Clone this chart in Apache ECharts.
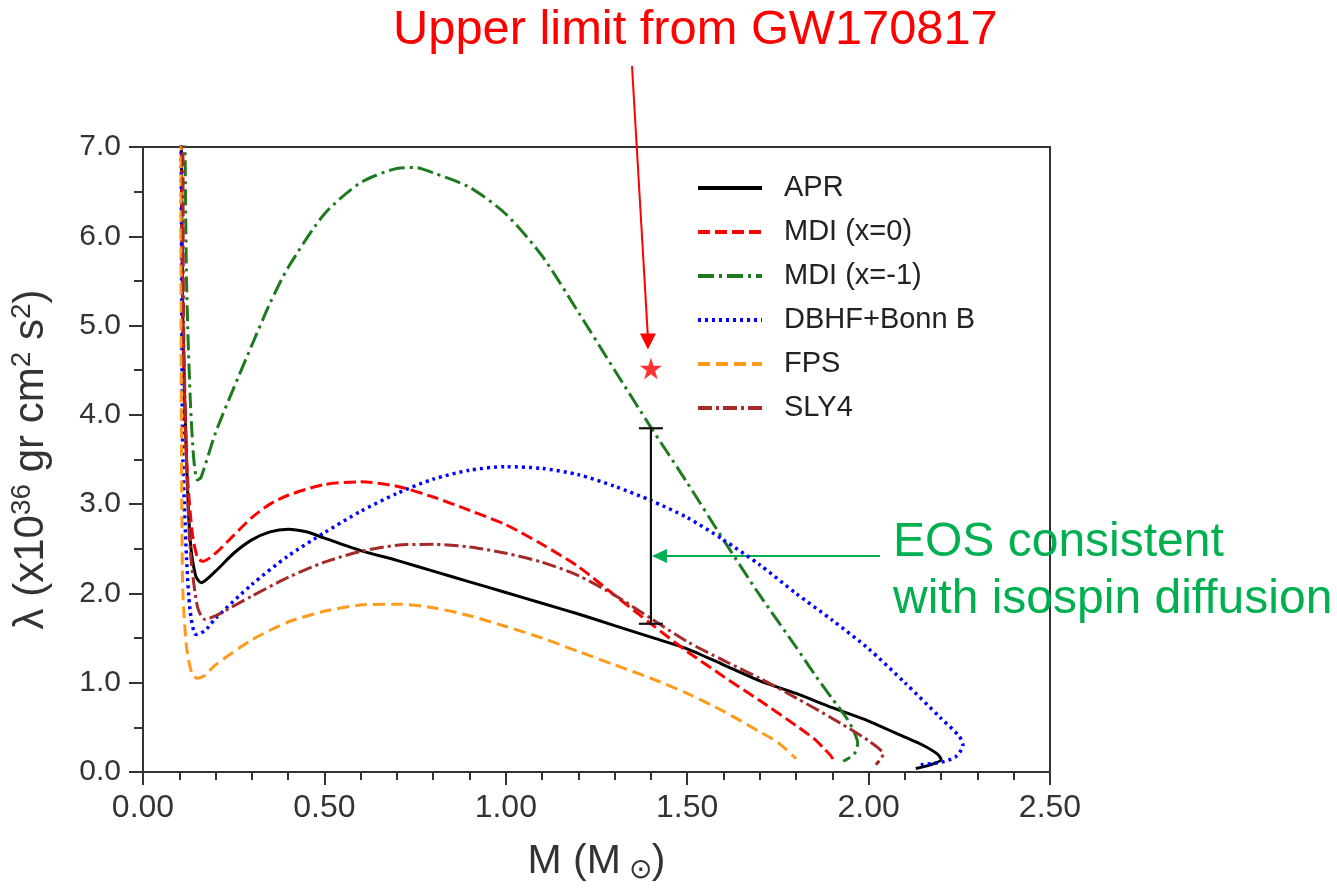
<!DOCTYPE html>
<html><head><meta charset="utf-8">
<script src="https://cdn.jsdelivr.net/npm/echarts/dist/echarts.min.js"></script>
<style>html,body{margin:0;padding:0;background:#fff}#c{width:1337px;height:889px}</style>
</head><body><div id="c"></div>
<script>
const seriesNames = ['APR', 'MDI (x=0)', 'MDI (x=-1)', 'DBHF+Bonn B', 'FPS', 'SLY4'];
const xTickLabels = ['0.00', '0.50', '1.00', '1.50', '2.00', '2.50'];
const yTickLabels = ['0.0', '1.0', '2.0', '3.0', '4.0', '5.0', '6.0', '7.0'];

const apr = [[0.105,7.5],[0.11,5.0],[0.12,3.5],[0.13,2.6],[0.145,2.2],[0.16,2.12],[0.2,2.25],[0.25,2.45],[0.3,2.6],[0.35,2.69],[0.4,2.72],[0.45,2.69],[0.5,2.62],[0.6,2.48],[0.7,2.37],[0.8,2.25],[0.9,2.13],[1.0,2.01],[1.1,1.89],[1.2,1.77],[1.3,1.64],[1.4,1.51],[1.5,1.38],[1.6,1.2],[1.7,1.02],[1.8,0.88],[1.9,0.72],[2.0,0.57],[2.1,0.39],[2.15,0.3],[2.19,0.2],[2.2,0.14],[2.17,0.08],[2.13,0.04]];
const mdi0 = [[0.105,7.5],[0.11,5.0],[0.12,3.5],[0.135,2.7],[0.15,2.4],[0.165,2.36],[0.2,2.45],[0.25,2.65],[0.3,2.85],[0.35,3.0],[0.4,3.1],[0.5,3.22],[0.6,3.25],[0.7,3.2],[0.8,3.08],[0.9,2.93],[1.0,2.77],[1.1,2.55],[1.2,2.3],[1.3,1.98],[1.4,1.66],[1.5,1.35],[1.6,1.07],[1.7,0.8],[1.8,0.52],[1.85,0.37],[1.88,0.25],[1.9,0.15],[1.9,0.12]];
const mdim1 = [[0.115,7.5],[0.12,5.5],[0.13,4.2],[0.14,3.5],[0.15,3.27],[0.16,3.3],[0.2,3.8],[0.25,4.3],[0.3,4.78],[0.35,5.25],[0.4,5.65],[0.5,6.25],[0.6,6.6],[0.7,6.76],[0.75,6.77],[0.8,6.71],[0.9,6.55],[1.0,6.25],[1.1,5.78],[1.2,5.15],[1.3,4.5],[1.4,3.86],[1.5,3.24],[1.6,2.6],[1.7,1.98],[1.8,1.4],[1.85,1.1],[1.9,0.82],[1.94,0.6],[1.96,0.45],[1.97,0.32],[1.96,0.2],[1.93,0.12]];
const dbhf = [[0.105,7.5],[0.107,5.0],[0.11,3.5],[0.12,2.4],[0.13,1.8],[0.146,1.54],[0.17,1.58],[0.2,1.72],[0.3,2.1],[0.4,2.42],[0.5,2.68],[0.6,2.92],[0.7,3.12],[0.8,3.28],[0.9,3.38],[1.0,3.42],[1.1,3.4],[1.2,3.33],[1.3,3.2],[1.4,3.04],[1.5,2.85],[1.6,2.6],[1.7,2.32],[1.8,2.0],[1.9,1.7],[2.0,1.38],[2.1,1.0],[2.2,0.6],[2.25,0.4],[2.26,0.3],[2.24,0.17],[2.2,0.11],[2.14,0.08]];
const fps = [[0.105,7.5],[0.105,5.0],[0.107,3.0],[0.11,2.0],[0.12,1.4],[0.135,1.1],[0.15,1.05],[0.17,1.08],[0.2,1.2],[0.3,1.48],[0.4,1.68],[0.5,1.8],[0.6,1.87],[0.7,1.88],[0.8,1.84],[0.9,1.75],[1.0,1.63],[1.1,1.5],[1.2,1.35],[1.3,1.2],[1.4,1.05],[1.5,0.88],[1.6,0.68],[1.7,0.45],[1.75,0.33],[1.8,0.15]];
const sly4 = [[0.11,7.5],[0.112,5.0],[0.12,3.5],[0.13,2.5],[0.15,1.85],[0.17,1.71],[0.2,1.75],[0.3,1.97],[0.4,2.18],[0.5,2.35],[0.6,2.47],[0.7,2.54],[0.8,2.55],[0.9,2.52],[1.0,2.45],[1.1,2.35],[1.2,2.2],[1.3,1.98],[1.4,1.72],[1.5,1.46],[1.6,1.25],[1.7,1.05],[1.8,0.83],[1.9,0.6],[2.0,0.35],[2.04,0.2],[2.02,0.08]];

const gwLimit = [[1.40, 4.52]];
const isospinBar = [[1.40, 1.66, 3.85]];
const isospinArrowTarget = [1.40, 2.42];

const FONT = '"Liberation Sans", Arial, sans-serif';
const chart = echarts.init(document.getElementById('c'), null, {renderer: 'canvas'});

function lineSeries(name, data, color, type, width) {
  return {
    name, type: 'line', data, showSymbol: false, symbol: 'none', smooth: 0.25, clip: true,
    lineStyle: {color, type, width}, itemStyle: {color}, z: 3
  };
}

const option = {
  backgroundColor: '#fff',
  animation: false,
  grid: {left: 142, top: 147, right: 287, bottom: 99, show: true, borderColor: '#333', borderWidth: 2, backgroundColor: 'transparent'},
  legend: {
    data: seriesNames, orient: 'vertical', left: 691, top: 168,
    itemWidth: 64, itemHeight: 14, itemGap: 14,
    itemStyle: {opacity: 0, borderWidth: 0, color: 'rgba(0,0,0,0)'},
    lineStyle: {width: 4},
    textStyle: {fontFamily: FONT, fontSize: 29, color: '#222', lineHeight: 30, padding: [0, 0, 0, 17]}
  },
  xAxis: {
    type: 'value', min: 0, max: 2.5, interval: 0.5,
    axisLine: {lineStyle: {color: '#333', width: 2}},
    axisTick: {inside: false, length: 13, lineStyle: {color: '#333', width: 2}},
    minorTick: {show: true, splitNumber: 5, length: 8, lineStyle: {color: '#333', width: 2}},
    splitLine: {show: false},
    axisLabel: {fontFamily: FONT, fontSize: 32, color: '#333', margin: 20, formatter: v => xTickLabels[Math.round(v / 0.5)]},
    name: 'M (M{sub|⊙})', nameLocation: 'middle', nameGap: 68,
    nameTextStyle: {fontFamily: FONT, fontSize: 41, color: '#333', rich: {sub: {fontFamily: FONT, fontSize: 28, color: '#333', padding: [16, 0, 0, 8]}}}
  },
  yAxis: {
    type: 'value', min: 0, max: 7, interval: 1,
    axisLine: {lineStyle: {color: '#333', width: 2}},
    axisTick: {inside: false, length: 14, lineStyle: {color: '#333', width: 2}},
    minorTick: {show: true, splitNumber: 2, length: 9, lineStyle: {color: '#333', width: 2}},
    splitLine: {show: false},
    axisLabel: {fontFamily: FONT, fontSize: 30, color: '#333', margin: 22, formatter: v => yTickLabels[Math.round(v)]},
    name: 'λ (x10{sup|36} gr cm{sup|2} s{sup|2})', nameLocation: 'middle', nameGap: 88, nameRotate: 90,
    nameTextStyle: {fontFamily: FONT, fontSize: 42, color: '#333', rich: {sup: {fontFamily: FONT, fontSize: 28, color: '#333', padding: [0, 0, 19, 0]}}}
  },
  series: [
    lineSeries('APR', apr, '#000000', 'solid', 3),
    lineSeries('MDI (x=0)', mdi0, '#ff0000', [12, 5], 3),
    lineSeries('MDI (x=-1)', mdim1, '#1f7a1f', [16, 5, 3, 5], 3),
    lineSeries('DBHF+Bonn B', dbhf, '#0000ff', [3, 4], 3.5),
    lineSeries('FPS', fps, '#ff9a1a', [12, 6], 3),
    lineSeries('SLY4', sly4, '#a52a2a', [14, 4, 3, 4], 3),
    {
      name: 'GW170817', type: 'scatter', data: gwLimit, z: 5,
      symbol: 'path://M50,0 L61.8,35.1 L98.9,35.1 L68.9,56.9 L80.2,92.1 L50,70.3 L19.8,92.1 L31.1,56.9 L1.1,35.1 L38.2,35.1 Z',
      symbolSize: 22, itemStyle: {color: '#ff0000'}
    },
    {
      name: 'isospin', type: 'custom', data: isospinBar, z: 6,
      encode: {x: 0, y: [1, 2]},
      renderItem: (params, api) => {
        const x = api.value(0);
        const lo = api.coord([x, api.value(1)]);
        const hi = api.coord([x, api.value(2)]);
        const w = 12, st = {stroke: '#111', lineWidth: 2.2};
        return {type: 'group', children: [
          {type: 'line', shape: {x1: lo[0], y1: lo[1], x2: hi[0], y2: hi[1]}, style: st},
          {type: 'line', shape: {x1: lo[0] - w, y1: lo[1], x2: lo[0] + w, y2: lo[1]}, style: st},
          {type: 'line', shape: {x1: hi[0] - w, y1: hi[1], x2: hi[0] + w, y2: hi[1]}, style: st}
        ]};
      }
    }
  ]
};
chart.setOption(option);

const star = chart.convertToPixel({gridIndex: 0}, gwLimit[0]);
const tgt = chart.convertToPixel({gridIndex: 0}, isospinArrowTarget);
const redTip = [star[0] - 3, star[1] - 19];
const redStart = [632, 66];
const greenTip = [tgt[0] + 1, tgt[1]];
const greenStart = [880, tgt[1]];

chart.setOption({
  graphic: [
    {type: 'text', left: 393, top: 6, style: {text: 'Upper limit from GW170817', font: '48.8px ' + FONT, fill: '#ff0000'}},
    {type: 'line', shape: {x1: redStart[0], y1: redStart[1], x2: redTip[0], y2: redTip[1] - 12}, style: {stroke: '#ff0000', lineWidth: 2}},
    {type: 'polygon', shape: {points: [[redTip[0], redTip[1]], [redTip[0] - 8, redTip[1] - 16], [redTip[0] + 8, redTip[1] - 16]]}, style: {fill: '#ff0000'}},
    {type: 'text', left: 893, top: 514, style: {text: 'EOS consistent\nwith isospin diffusion', font: '48px ' + FONT, fill: '#00b050', lineHeight: 57}},
    {type: 'line', shape: {x1: greenStart[0], y1: greenStart[1], x2: greenTip[0] + 12, y2: greenTip[1]}, style: {stroke: '#00b050', lineWidth: 2}},
    {type: 'polygon', shape: {points: [[greenTip[0], greenTip[1]], [greenTip[0] + 15, greenTip[1] - 7], [greenTip[0] + 15, greenTip[1] + 7]]}, style: {fill: '#00b050'}}
  ]
});
</script></body></html>
